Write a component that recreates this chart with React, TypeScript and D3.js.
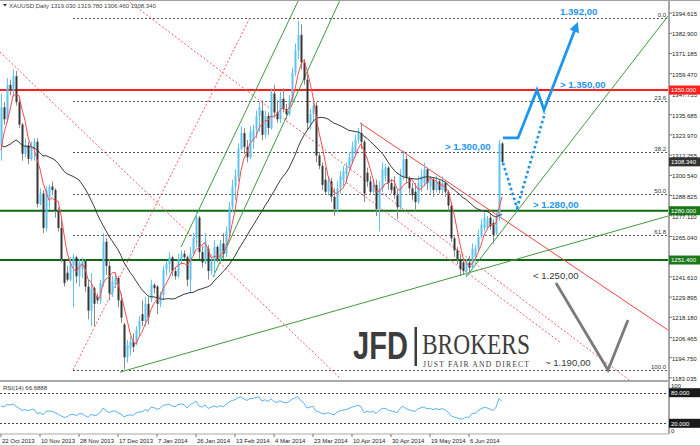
import React from 'react';
import * as d3 from 'd3';

// ---------- DATA ----------
const dateLabels = ['22 Oct 2013', '10 Nov 2013', '28 Nov 2013', '17 Dec 2013', '7 Jan 2014', '26 Jan 2014', '13 Feb 2014', '4 Mar 2014', '23 Mar 2014', '10 Apr 2014', '30 Apr 2014', '19 May 2014', '6 Jun 2014'];

const opens = [
  1318, 1340, 1333, 1353, 1350, 1358, 1343, 1330, 1313, 1318, 1310, 1317, 1320,
  1284, 1290, 1270, 1288, 1294, 1292, 1280, 1270, 1252, 1244, 1240, 1248, 1253,
  1242, 1246, 1251, 1236, 1222, 1235, 1230, 1228, 1238, 1262, 1248, 1232, 1237,
  1241, 1228, 1214, 1195, 1200, 1204, 1203, 1211, 1220, 1216, 1226, 1229, 1237,
  1236, 1226, 1231, 1246, 1249, 1253, 1245, 1242, 1252, 1255, 1253, 1240, 1255,
  1264, 1276, 1256, 1250, 1258, 1245, 1251, 1259, 1252, 1261, 1255, 1268, 1282,
  1294, 1300, 1316, 1325, 1317, 1311, 1320, 1327, 1335, 1338, 1324, 1335, 1328,
  1348, 1337, 1333, 1345, 1339, 1336, 1344, 1360, 1373, 1382, 1366, 1356, 1331,
  1336, 1341, 1312, 1306, 1298, 1291, 1297, 1288, 1281, 1293, 1298, 1301, 1305,
  1308, 1313, 1321, 1325, 1320, 1302, 1297, 1291, 1295, 1281, 1293, 1300, 1305,
  1296, 1294, 1289, 1282, 1300, 1310, 1299, 1293, 1291, 1285, 1294, 1296, 1304,
  1294, 1298, 1292, 1297, 1292, 1296, 1291, 1283, 1264, 1257, 1252, 1250, 1245,
  1250, 1247, 1253, 1258, 1265, 1270, 1270, 1276, 1273, 1267, 1276, 1319.03,
];
const highs = [
  1348, 1343, 1357, 1356, 1362, 1361, 1345, 1331, 1322, 1320, 1320, 1322, 1322,
  1293, 1292, 1294, 1295, 1297, 1293, 1282, 1276, 1252, 1248, 1253, 1255, 1254,
  1252, 1253, 1252, 1240, 1244, 1236, 1232, 1240, 1267, 1264, 1252, 1242, 1243,
  1242, 1232, 1215, 1205, 1207, 1209, 1213, 1219, 1228, 1230, 1230, 1240, 1238,
  1237, 1233, 1248, 1251, 1256, 1254, 1247, 1255, 1257, 1257, 1254, 1259, 1267,
  1279, 1277, 1259, 1267, 1260, 1253, 1263, 1260, 1263, 1267, 1271, 1285, 1298,
  1304, 1319, 1329, 1328, 1321, 1329, 1330, 1338, 1343, 1344, 1338, 1337, 1351,
  1353, 1344, 1349, 1351, 1342, 1347, 1363, 1377, 1390, 1388, 1368, 1359, 1339,
  1344, 1343, 1314, 1308, 1305, 1300, 1299, 1293, 1297, 1303, 1306, 1308, 1314,
  1320, 1324, 1328, 1331, 1321, 1305, 1300, 1298, 1298, 1297, 1308, 1307, 1306,
  1298, 1300, 1292, 1304, 1315, 1312, 1300, 1296, 1296, 1300, 1304, 1308, 1305,
  1300, 1299, 1300, 1298, 1300, 1297, 1292, 1285, 1266, 1259, 1255, 1252, 1252,
  1254, 1261, 1260, 1269, 1275, 1279, 1277, 1278, 1275, 1279, 1321, 1319.78,
];
const lows = [
  1309, 1330, 1331, 1347, 1346, 1341, 1328, 1309, 1311, 1307, 1309, 1309, 1282,
  1283, 1267, 1268, 1281, 1289, 1276, 1268, 1250, 1236, 1239, 1239, 1224, 1238,
  1236, 1241, 1233, 1217, 1213, 1213, 1226, 1226, 1236, 1243, 1228, 1230, 1235,
  1224, 1215, 1188, 1192, 1196, 1198, 1202, 1207, 1213, 1213, 1214, 1227, 1232,
  1220, 1224, 1228, 1242, 1244, 1242, 1240, 1241, 1249, 1252, 1236, 1233, 1254,
  1259, 1252, 1247, 1249, 1240, 1243, 1242, 1250, 1250, 1252, 1253, 1266, 1279,
  1286, 1297, 1315, 1313, 1308, 1310, 1316, 1322, 1326, 1321, 1322, 1324, 1327,
  1334, 1331, 1331, 1337, 1333, 1335, 1343, 1358, 1368, 1362, 1353, 1327, 1327,
  1332, 1308, 1304, 1292, 1289, 1289, 1285, 1277, 1279, 1290, 1294, 1296, 1304,
  1307, 1311, 1319, 1316, 1285, 1294, 1289, 1290, 1277, 1268, 1291, 1297, 1292,
  1290, 1287, 1275, 1281, 1298, 1296, 1290, 1286, 1280, 1284, 1291, 1294, 1292,
  1290, 1288, 1291, 1290, 1290, 1288, 1280, 1262, 1253, 1249, 1242, 1243, 1242,
  1244, 1246, 1250, 1257, 1264, 1268, 1269, 1269, 1261, 1266, 1274, 1306.46,
];
const closes = [
  1340, 1333, 1353, 1350, 1358, 1343, 1330, 1313, 1318, 1310, 1317, 1320, 1284,
  1290, 1270, 1292, 1294, 1292, 1280, 1270, 1252, 1238, 1240, 1250, 1253, 1242,
  1250, 1251, 1236, 1222, 1235, 1226, 1228, 1238, 1262, 1248, 1232, 1239, 1241,
  1228, 1218, 1195, 1202, 1204, 1201, 1211, 1216, 1216, 1226, 1218, 1237, 1235,
  1226, 1231, 1246, 1249, 1253, 1245, 1242, 1252, 1255, 1253, 1240, 1255, 1264,
  1276, 1256, 1250, 1262, 1245, 1251, 1259, 1252, 1261, 1255, 1268, 1282, 1294,
  1300, 1316, 1325, 1317, 1311, 1326, 1327, 1335, 1340, 1324, 1335, 1328, 1348,
  1337, 1333, 1345, 1339, 1336, 1344, 1360, 1373, 1382, 1366, 1356, 1331, 1336,
  1341, 1312, 1306, 1295, 1291, 1297, 1288, 1281, 1293, 1300, 1303, 1305, 1311,
  1317, 1321, 1325, 1320, 1290, 1297, 1291, 1295, 1281, 1293, 1304, 1305, 1296,
  1292, 1289, 1282, 1300, 1310, 1299, 1293, 1289, 1285, 1296, 1300, 1304, 1296,
  1298, 1292, 1297, 1292, 1296, 1291, 1283, 1264, 1257, 1252, 1246, 1245, 1250,
  1247, 1258, 1258, 1265, 1272, 1276, 1275, 1271, 1266, 1276, 1319, 1308.34,
];
// closes before the first visible bar (indicator warm-up)
const warmupCloses = [1367, 1331, 1326, 1317, 1309, 1366, 1369, 1332, 1322, 1316, 1337, 1323, 1338, 1327, 1286, 1317, 1316, 1309, 1324, 1323, 1307, 1286, 1272, 1275, 1273, 1282, 1322, 1315, 1316];

const priceAxisLabels = [1394.615, 1382.9, 1371.185, 1359.47, 1347.755, 1335.685, 1323.97, 1312.255, 1300.54, 1288.825, 1277.11, 1265.04, 1253.325, 1241.61, 1229.895, 1218.18, 1206.465, 1194.75, 1183.035];

const fibNames = ['0.0', '23.6', '38.2', '50.0', '61.8', '100.0'];
const fibRatios = [0, 0.236, 0.382, 0.5, 0.618, 1];
const fibAnchor = [24, 1187.6, 83, 1392]; // [barLow, low, barHigh, high]

const resistanceLevels = [1350];
const supportLevels = [1280, 1251.4];
const lastPrice = 1308.34;

// trend lines: [bar1, price1, bar2, price2]
const dottedRedLines = [
  [42, 1402.2, 210.67, 1180.1],
  [-0.33, 1372, 113, 1183],
  [113, 1299, 186.33, 1203.8],
];
const solidRedLines = [[119.67, 1330.9, 222.33, 1210.8]];
const greenLines = [
  [60, 1258.9, 99.2, 1402.2],
  [70.67, 1241.5, 113, 1402.2],
  [39.67, 1186.4, 222.33, 1276.9],
  [155, 1241.5, 222.33, 1392.9],
];

// scenario paths
const bullBars = [167.33, 172.33, 178.67, 181, 192.3];
const bullPrices = [1322.2, 1322.2, 1350, 1338.4, 1389.4];
const pullbackBars = [167.33, 172, 181.33];
const pullbackPrices = [1307.7, 1281.6, 1336.7];
const bearBars = [185, 202.33, 209];
const bearPrices = [1238.1, 1187.6, 1216.6];

const blueNotes = ['1.392,00', '> 1.350,00', '> 1.300,00', '> 1.280,00'];
const blueNoteBars = [186.33, 186.33, 148, 177.33];
const blueNotePrices = [1393.8, 1351.3, 1315.2, 1281.8];
const grayNotes = ['< 1.250,00', '~ 1.190,00'];
const grayNoteBars = [177.33, 181.33];
const grayNotePrices = [1240.4, 1189.9];

const rsiLevels = [80, 20];

// ---------- helpers ----------
const allCloses = warmupCloses.concat(closes);
const OFF = warmupCloses.length;

function sma(n: number): number[] {
  return closes.map((_, i) => {
    const j = i + OFF;
    const s = Math.max(0, j - n + 1);
    const w = allCloses.slice(s, j + 1);
    return d3.mean(w) as number;
  });
}
function rsi(n: number): number[] {
  const out: number[] = new Array(allCloses.length).fill(NaN);
  let g = 0, l = 0;
  for (let k = 1; k <= n; k++) {
    const d = allCloses[k] - allCloses[k - 1];
    if (d > 0) g += d; else l -= d;
  }
  g /= n; l /= n;
  out[n] = l === 0 ? 100 : 100 - 100 / (1 + g / l);
  for (let k = n + 1; k < allCloses.length; k++) {
    const d = allCloses[k] - allCloses[k - 1];
    g = (g * (n - 1) + Math.max(d, 0)) / n;
    l = (l * (n - 1) + Math.max(-d, 0)) / n;
    out[k] = l === 0 ? 100 : 100 - 100 / (1 + g / l);
  }
  return out.slice(OFF);
}

const FONT = "'Liberation Sans', Arial, sans-serif";
const BULL = '#5cc4f2';
const BEAR = '#363636';
const BEAR_WICK = '#8a8a8a';
const BLUE = '#1d96ee';
const AX = 668;

export default function App() {
  const x = d3.scaleLinear().domain([0, 167]).range([1, 502]);
  const y = d3.scaleLinear().domain([1183.035, 1394.615]).range([377.9, 13.1]);
  const yR = d3.scaleLinear().domain([0, 100]).range([433.5, 382.5]);

  const fast = sma(5);
  const slow = sma(30);
  const rsiVals = rsi(14);

  const line = d3.line<number>().x((_, i) => x(i)).y((d) => y(d));
  const rsiLine = d3.line<number>().x((_, i) => x(i)).y((d) => yR(d));
  const pathOf = (bars: number[], prices: number[]) =>
    d3.line<number>().x((b) => x(b)).y((_, i) => y(prices[i]))(bars) as string;

  const [f1, fLow, f2, fHigh] = fibAnchor;
  const fibPrices = fibRatios.map((r) => fHigh - r * (fHigh - fLow));

  // arrow head on bull path
  const n = bullBars.length;
  const tipX = x(bullBars[n - 1]), tipY = y(bullPrices[n - 1]);
  const prX = x(bullBars[n - 2]), prY = y(bullPrices[n - 2]);
  const len = Math.hypot(tipX - prX, tipY - prY);
  const ux = (tipX - prX) / len, uy = (tipY - prY) / len;
  const AL = 10, AW = 5;
  const bx = tipX - ux * AL, by = tipY - uy * AL;
  const arrowPts = `${tipX},${tipY} ${bx - uy * AW},${by + ux * AW} ${bx + uy * AW},${by - ux * AW}`;
  const bullLinePts = bullBars.map((b, i) => (i === n - 1 ? [bx + ux * 2, by + uy * 2] : [x(b), y(bullPrices[i])]));

  const marker = (val: number, label: string, fill: string, yy: number) => (
    <g key={label + fill}>
      <rect x={669} y={yy - 4.5} width={31} height={9} fill={fill} />
      <text x={671} y={yy + 2.2} fontSize={6} fill="#fff" fontFamily={FONT}>{label}</text>
    </g>
  );

  return (
    <svg width={700} height={446} style={{ position: 'absolute', left: 0, top: 0, background: '#fff' }} fontFamily={FONT}>
      <defs>
        <clipPath id="mainClip"><rect x={0} y={1} width={AX} height={379} /></clipPath>
        <clipPath id="rsiClip"><rect x={0} y={382} width={AX} height={52} /></clipPath>
      </defs>
      <rect x={0} y={0} width={700} height={446} fill="#fff" />

      <g clipPath="url(#mainClip)">
        {/* fib levels */}
        {fibPrices.map((p, i) => (
          <g key={'fib' + i}>
            <line x1={x(f1)} x2={AX} y1={Math.round(y(p)) + 0.5} y2={Math.round(y(p)) + 0.5} stroke="#555" strokeDasharray="2,2" strokeWidth={1} />
            <text x={666} y={y(p) - 1} fontSize={6} textAnchor="end" fill="#333">{fibNames[i]}</text>
          </g>
        ))}
        {/* horizontal levels */}
        {resistanceLevels.map((p) => (
          <line key={'r' + p} x1={0} x2={AX} y1={y(p)} y2={y(p)} stroke="#ff1f1f" strokeWidth={2} />
        ))}
        {supportLevels.map((p) => (
          <line key={'s' + p} x1={0} x2={AX} y1={y(p)} y2={y(p)} stroke="#0f6a12" strokeWidth={2} />
        ))}
        {/* trend lines */}
        {dottedRedLines.map((l, i) => (
          <line key={'dr' + i} x1={x(l[0])} y1={y(l[1])} x2={x(l[2])} y2={y(l[3])} stroke="#ff5a5a" strokeWidth={1} strokeDasharray="2,2" />
        ))}
        <line x1={x(f1)} y1={y(fLow)} x2={x(f2)} y2={y(fHigh)} stroke="#ff5a5a" strokeWidth={1} strokeDasharray="2,2" />
        {solidRedLines.map((l, i) => (
          <line key={'sr' + i} x1={x(l[0])} y1={y(l[1])} x2={x(l[2])} y2={y(l[3])} stroke="#ff4040" strokeWidth={1} />
        ))}
        {greenLines.map((l, i) => (
          <line key={'g' + i} x1={x(l[0])} y1={y(l[1])} x2={x(l[2])} y2={y(l[3])} stroke="#3f9a3f" strokeWidth={1} />
        ))}

        {/* candles */}
        {opens.map((o, i) => {
          const c = closes[i];
          const bull = c >= o;
          const cx = x(i);
          const top = y(Math.max(o, c));
          const bot = y(Math.min(o, c));
          return (
            <g key={'c' + i}>
              <line x1={cx + 0.5} x2={cx + 0.5} y1={y(highs[i])} y2={y(lows[i])} stroke={bull ? BULL : BEAR_WICK} strokeWidth={1} />
              <rect x={cx - 0.5} y={top} width={2} height={Math.max(1, bot - top)} fill={bull ? BULL : BEAR} />
            </g>
          );
        })}

        {/* moving averages */}
        <path d={line(slow) as string} fill="none" stroke="#3a3a3a" strokeWidth={1} />
        <path d={line(fast) as string} fill="none" stroke="#ff4a4a" strokeWidth={1} />

        {/* scenarios */}
        <path d={pathOf(pullbackBars, pullbackPrices)} fill="none" stroke={BLUE} strokeWidth={2.6} strokeDasharray="2.6,2.6" />
        <path d={d3.line()(bullLinePts as [number, number][]) as string} fill="none" stroke={BLUE} strokeWidth={2.8} strokeLinejoin="miter" />
        <polygon points={arrowPts} fill={BLUE} />
        <path d={pathOf(bearBars, bearPrices)} fill="none" stroke="#7b7b7b" strokeWidth={2.8} />

        {blueNotes.map((t, i) => (
          <text key={'bn' + i} x={x(blueNoteBars[i])} y={y(blueNotePrices[i])} fontSize={9.6} fontWeight="bold" fill={BLUE}>{t}</text>
        ))}
        {grayNotes.map((t, i) => (
          <text key={'gn' + i} x={x(grayNoteBars[i])} y={y(grayNotePrices[i])} fontSize={9.6} fill="#3a3a3a">{t}</text>
        ))}

        {/* logo */}
        <text x={353} y={359} fontSize={38} fontWeight="bold" fill="#3d3d3d" textLength={55} lengthAdjust="spacingAndGlyphs">JFD</text>
        <rect x={414.5} y={327} width={2.5} height={39} fill="#3d3d3d" />
        <text x={422} y={354} fontSize={29} fontFamily="'Liberation Serif', 'DejaVu Serif', serif" fill="#3d3d3d" textLength={108} lengthAdjust="spacingAndGlyphs">BROKERS</text>
        <text x={423} y={366.5} fontSize={7.6} fontFamily="'Liberation Serif', 'DejaVu Serif', serif" fill="#3d3d3d" textLength={106} lengthAdjust="spacing">JUST FAIR AND DIRECT</text>
      </g>

      {/* header */}
      <polygon points="3,4 7,4 5,6.5" fill="#333" />
      <text x={9} y={7.6} fontSize={6} fill="#444">XAUUSD,Daily  1319.030 1319.780 1306.460 1308.340</text>

      {/* frame */}
      <line x1={0} x2={700} y1={0.5} y2={0.5} stroke="#a0a0a0" strokeWidth={1} />
      <line x1={0} x2={AX} y1={381} y2={381} stroke="#a8a8a8" strokeWidth={2} />
      <line x1={0} x2={AX} y1={434} y2={434} stroke="#a8a8a8" strokeWidth={1} />
      <line x1={AX + 1} x2={AX + 1} y1={0} y2={434} stroke="#a8a8a8" strokeWidth={2} />
      <line x1={0} x2={700} y1={445.5} y2={445.5} stroke="#d0d0d0" strokeWidth={1} />

      {/* price axis */}
      {priceAxisLabels.map((p) => (
        <g key={'pa' + p}>
          <line x1={AX + 1} x2={AX + 4} y1={y(p)} y2={y(p)} stroke="#777" />
          <text x={672} y={y(p) + 3} fontSize={6} fill="#222">{p.toFixed(3)}</text>
        </g>
      ))}
      {resistanceLevels.map((p) => marker(p, p.toFixed(3), '#ff1f1f', y(p)))}
      {marker(lastPrice, lastPrice.toFixed(3), '#333', y(lastPrice))}
      {supportLevels.map((p) => marker(p, p.toFixed(3), '#1a7a1a', y(p)))}

      {/* RSI panel */}
      <text x={3} y={389.5} fontSize={6} fill="#333">RSI(14) 66.6888</text>
      {rsiLevels.map((v) => (
        <line key={'rl' + v} x1={0} x2={AX} y1={Math.round(yR(v)) + 0.5} y2={Math.round(yR(v)) + 0.5} stroke="#444" strokeDasharray="2,2" />
      ))}
      <g clipPath="url(#rsiClip)">
        <path d={rsiLine(rsiVals) as string} fill="none" stroke="#5ab4f2" strokeWidth={1} />
      </g>
      <text x={671} y={388} fontSize={6} fill="#222">100</text>
      <text x={671} y={433} fontSize={6} fill="#222">0</text>
      {rsiLevels.map((v) => marker(v, v.toFixed(3), '#1a1a1a', yR(v)))}

      {/* time axis */}
      {dateLabels.map((t, k) => {
        const xx = x(k * 13);
        return (
          <g key={'d' + k}>
            <line x1={xx} x2={xx} y1={434} y2={437} stroke="#777" />
            <text x={xx + 1} y={443} fontSize={6} fill="#222">{t}</text>
          </g>
        );
      })}
    </svg>
  );
}
